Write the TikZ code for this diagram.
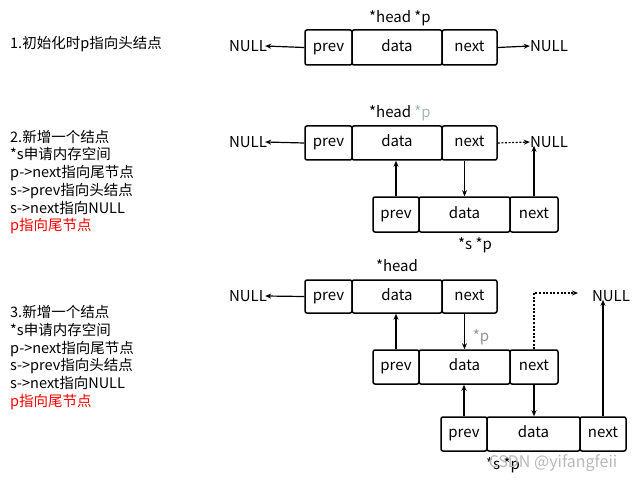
\documentclass[tikz,border=0pt]{standalone}
\usepackage{fontspec}
\setmainfont{Noto Sans CJK SC}
\usetikzlibrary{arrows.meta}
\definecolor{pblue}{RGB}{165,185,192}
\definecolor{pgrey}{RGB}{140,148,158}
\definecolor{wm}{RGB}{185,185,185}
\begin{document}
\begin{tikzpicture}[x=1pt,y=-1pt,
  cell/.style={draw, line width=1.5pt, rounded corners=2pt, inner sep=0pt, minimum height=35pt, text height=10.5pt, text depth=3pt, font=\fontsize{15}{17}\selectfont},
  txt/.style={inner sep=0pt, font=\fontsize{15}{17}\selectfont},
  side/.style={inner sep=0pt, align=left, anchor=west, font=\fontsize{14.5}{17.7}\selectfont},
  arr/.style={line width=1.2pt, -{Stealth[length=6pt,width=5pt]}},
  darr/.style={arr, dash pattern=on 2pt off 1.6pt}]
\useasboundingbox (0,0) rectangle (640,484);

% ---------- section 1 ----------
\node[side] (s1) at (10,44) {1.初始化时p指向头结点};
\node[txt] (h1) at (400,18) {*head *p};
\node[cell, minimum width=47pt] (a1p) at (328.5,47.5) {prev};
\node[cell, minimum width=90pt] (a1d) at (397,47.5) {data};
\node[cell, minimum width=55pt] (a1n) at (469.5,47.5) {next};
\node[txt] (n1l) at (248,46) {NULL};
\node[txt] (n1r) at (549,46) {NULL};
\draw[arr] (a1p.west) -- ([xshift=-2pt]n1l.east);
\draw[arr] (a1n.east) -- (n1r.west);

% ---------- section 2 ----------
\node[side] (s2) at (10,182) {2.新增一个结点\\*s申请内存空间\\p->next指向尾节点\\s->prev指向头结点\\s->next指向NULL\\{\color{red}p指向尾节点}};
\node[txt] (h2) at (400,113) {*head \textcolor{pblue}{*p}};
\node[cell, minimum width=47pt, minimum height=34pt] (a2p) at (328.5,143) {prev};
\node[cell, minimum width=90pt, minimum height=34pt] (a2d) at (397,143) {data};
\node[cell, minimum width=55pt, minimum height=34pt] (a2n) at (469.5,143) {next};
\node[txt] (n2l) at (248,142) {NULL};
\node[txt] (n2r) at (549,142) {NULL};
\node[cell, minimum width=46pt] (b2p) at (396,214.5) {prev};
\node[cell, minimum width=91pt] (b2d) at (464.5,214.5) {data};
\node[cell, minimum width=48pt] (b2n) at (534,214.5) {next};
\node[txt] (s2lab) at (475,245) {*s *p};
\draw[arr] (a2p.west) -- ([xshift=-2pt]n2l.east);
\draw[darr] (a2n.east) -- (n2r.west);
\draw[arr] (b2p.north) -- (b2p.north |- a2d.south);
\draw[arr] (a2n.south -| b2d.north) -- (b2d.north);
\draw[arr] (b2n.north) -- ([yshift=2pt]b2n.north |- n2r.south);

% ---------- section 3 ----------
\node[side] (s3) at (10,357.5) {3.新增一个结点\\*s申请内存空间\\p->next指向尾节点\\s->prev指向头结点\\s->next指向NULL\\{\color{red}p指向尾节点}};
\node[txt] (h3) at (397,266) {*head};
\node[cell, minimum width=47pt, minimum height=33pt] (a3p) at (328.5,296.5) {prev};
\node[cell, minimum width=90pt, minimum height=33pt] (a3d) at (397,296.5) {data};
\node[cell, minimum width=55pt, minimum height=33pt] (a3n) at (469.5,296.5) {next};
\node[txt] (n3l) at (248,296) {NULL};
\node[txt] (n3r) at (611,296) {NULL};
\node[cell, minimum width=46pt, minimum height=34pt] (m3p) at (396,367) {prev};
\node[cell, minimum width=91pt, minimum height=34pt] (m3d) at (464.5,367) {data};
\node[cell, minimum width=48pt, minimum height=34pt] (m3n) at (534,367) {next};
\node[cell, minimum width=46pt, minimum height=34pt] (c3p) at (464,434) {prev};
\node[cell, minimum width=93pt, minimum height=34pt] (c3d) at (533.5,434) {data};
\node[cell, minimum width=46pt, minimum height=34pt] (c3n) at (603,434) {next};
\node[txt, text=pgrey] (p3) at (481,337) {*p};
\coordinate (dend) at (578,293);
\draw[arr] (a3p.west) -- ([xshift=-2pt]n3l.east);
\draw[arr] (m3p.north) -- (m3p.north |- a3d.south);
\draw[arr] (a3n.south -| m3d.north) -- (m3d.north);
\draw[darr] (m3n.north) -- (m3n.north |- dend) -- (dend);
\draw[arr] (m3n.south) -- (m3n.south |- c3d.north);
\draw[arr] (c3p.north) -- (c3p.north |- m3d.south);
\draw[arr] (c3n.north) -- ([yshift=2pt]c3n.north |- n3r.south);
\node[txt] (s3lab) at (503,465) {*s *p};
\node[txt, text=wm, font=\fontsize{16}{18}\selectfont] (wmk) at (553,463) {CSDN @yifangfeii};
\end{tikzpicture}
\end{document}
